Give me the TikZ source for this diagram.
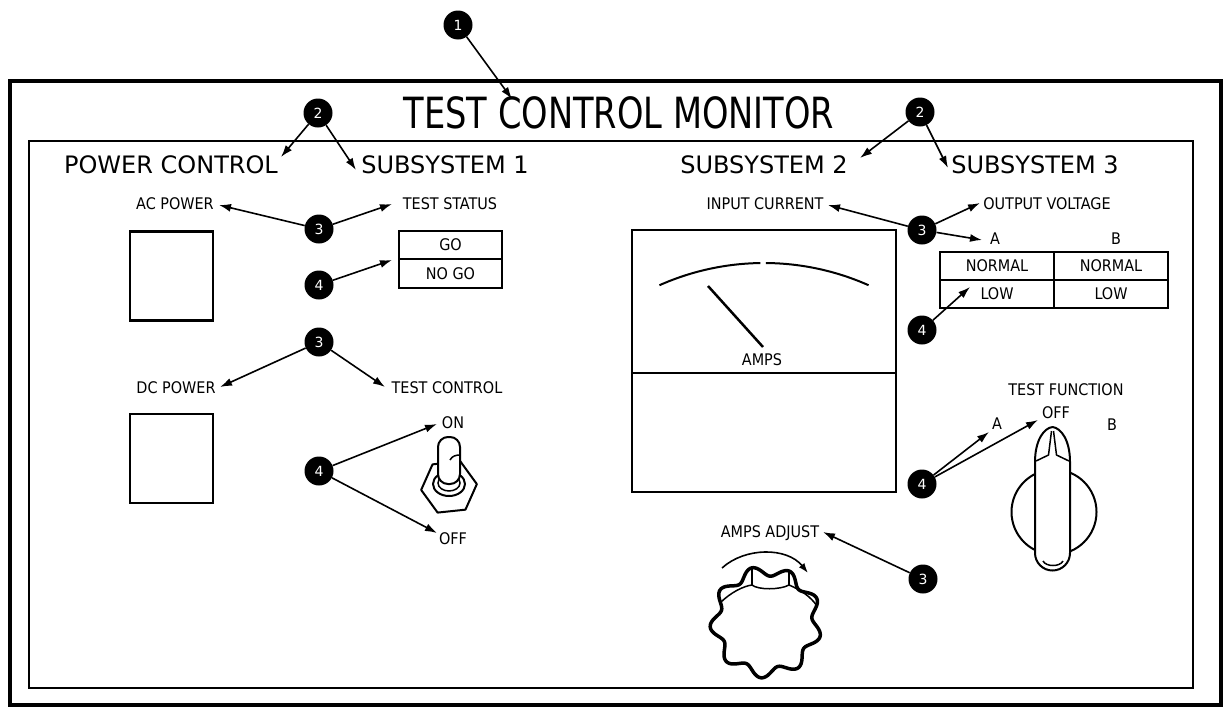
\documentclass[tikz,border=0pt]{standalone}
\usepackage{fontspec}
\usepackage{graphicx}
\setmainfont{DejaVu Sans}
\newfontfamily\condfont{DejaVu Sans Condensed}
\usetikzlibrary{arrows.meta}
\tikzset{
  lbl/.style={font=\condfont\fontsize{16}{18}\selectfont, inner sep=0pt, anchor=base},
  hdr/.style={font=\fontsize{24}{28}\selectfont, inner sep=0pt, anchor=base},
  callout/.style={circle, fill=black, text=white, minimum size=29pt, inner sep=0pt,
                  font=\fontsize{14}{14}\selectfont},
  ptr/.style={-{Latex[length=12pt,width=8pt]}, line width=1.6pt},
  cell/.style={draw, line width=2pt, inner sep=0pt, outer sep=0pt,
               font=\condfont\fontsize{16}{18}\selectfont},
  lamp/.style={draw, line width=2.2pt, minimum width=83pt, minimum height=89pt, inner sep=0pt},
  part/.style={draw, line width=2pt, fill=white, line join=round},
}
\begin{document}
\begin{tikzpicture}[x=1pt,y=-1pt]
\useasboundingbox (0,0) rectangle (1225,707);

% panel frames
\draw[line width=3.5pt] (10,81) rectangle (1221,705);
\draw[line width=2.5pt] (29,141) rectangle (1193,688);

% title and section headings
\node[font=\condfont\fontsize{43}{46}\selectfont, inner sep=0pt, anchor=base] (title) at (619,128)
  {\scalebox{0.87}[1]{TEST CONTROL MONITOR}};
\node[hdr] (hpow) at (171,173) {POWER CONTROL};
\node[hdr] (hsub1) at (445,173) {SUBSYSTEM 1};
\node[hdr] (hsub2) at (764,173) {SUBSYSTEM 2};
\node[hdr] (hsub3) at (1035,173) {SUBSYSTEM 3};

% power control
\node[lbl] (lac) at (175,209) {AC POWER};
\node[lamp] (acbox) at (171.5,276) {};
\node[lbl] (ldc) at (176,393) {DC POWER};
\node[lamp] (dcbox) at (171.5,458.5) {};

% subsystem 1
\node[lbl] (lstat) at (450,209) {TEST STATUS};
\node[cell, minimum width=103pt, minimum height=28pt] (go) at (450.5,245) {GO};
\node[cell, minimum width=103pt, minimum height=29pt] (nogo) at (450.5,273.5) {NO GO};
\node[lbl] (lctl) at (447,393) {TEST CONTROL};
\node[lbl] (lon) at (453,428) {ON};
\node[lbl] (loff) at (453,544) {OFF};

% toggle switch
\begin{scope}[shift={(449,487)}]
  \draw[part] (174:28) -- (234:28) -- (294:28) -- (354:28) -- (54:28) -- (114:28) -- cycle;
  \draw[part] (0,-3) ellipse [x radius=16, y radius=12];
  \draw[line width=1.5pt] (0,-4) ellipse [x radius=11, y radius=8];
  \draw[part, rounded corners=10pt] (-11,-50) rectangle (11,-3);
  \draw[line width=1.5pt] (1,-27) .. controls (3,-31) and (7,-32) .. (11,-32);
\end{scope}

% subsystem 2: meter
\node[draw, line width=2.5pt, minimum width=264pt, minimum height=262pt, inner sep=0pt] (meter) at (764,361) {};
\draw[line width=2.5pt] (632,373) -- (896,373);
\draw[line width=2pt] (764,520) ++(246:257) arc[start angle=246, end angle=269.2, radius=257];
\draw[line width=2pt] (764,520) ++(270.4:257) arc[start angle=270.4, end angle=294, radius=257];
\draw[line width=2.5pt] (708,286) -- (763,347);
\node[lbl] (lamps) at (762,365) {AMPS};
\node[lbl] (linp) at (765,209) {INPUT CURRENT};
\node[lbl] (ladj) at (770,537) {AMPS ADJUST};

% amps adjust knob: fluted rim with a raised top face
\draw[line width=1.6pt, -{Latex[length=10pt,width=7pt]}] (722,568) .. controls (745,547) and (787,547) .. (808,573);
\begin{scope}[shift={(766,622)}]
  \draw[line width=3.5pt, fill=white, line join=round]
    plot[domain=0:360, samples=217, smooth cycle, variable=\t] (\t:{51+5*cos(9*(\t+65))});
  \draw[line width=1.5pt] (-46,-19) .. controls (-35,-30) and (-22,-36) .. (-14,-37)
        .. controls (-8,-32) and (14,-32) .. (23,-37) .. controls (35,-32) and (45,-25) .. (51,-16);
  \draw[line width=1.5pt] (-14,-54) -- (-14,-37);
  \draw[line width=1.5pt] (23,-52) -- (23,-37);
\end{scope}

% subsystem 3
\node[lbl] (lout) at (1047,209) {OUTPUT VOLTAGE};
\node[lbl] (lca) at (995,244) {A};
\node[lbl] (lcb) at (1116,244) {B};
\node[cell, minimum width=114pt, minimum height=28pt] (norma) at (997,266) {NORMAL};
\node[cell, minimum width=114pt, minimum height=28pt] (normb) at (1111,266) {NORMAL};
\node[cell, minimum width=114pt, minimum height=28pt] (lowa) at (997,294) {LOW};
\node[cell, minimum width=114pt, minimum height=28pt] (lowb) at (1111,294) {LOW};
\node[lbl] (lfun) at (1066,395) {TEST FUNCTION};
\node[lbl] (lfa) at (997,429) {A};
\node[lbl] (lfoff) at (1056,418) {OFF};
\node[lbl] (lfb) at (1112,430) {B};

% test function selector
\draw[part] (1054,512) circle[radius=42.5];
\draw[part] (1035,462) -- (1035,553) arc[start angle=180, end angle=0, radius=17.5]
  -- (1070,462) .. controls (1070,440) and (1061,428) .. (1052.5,427)
  .. controls (1044,428) and (1035,440) .. (1035,462) -- cycle;
\draw[line width=1.5pt] (1051.5,431) -- (1048.5,455) -- (1036,461);
\draw[line width=1.5pt] (1053.5,431) -- (1056.5,455) -- (1069,461);
\draw[line width=1.5pt] (1043,561) .. controls (1046,567) and (1060,567) .. (1063,561);

% callouts
\node[callout] (n1) at (458,25) {1};
\node[callout] (n2a) at (318,113) {2};
\node[callout] (n2b) at (920,112) {2};
\node[callout] (n3a) at (319,229) {3};
\node[callout] (n4a) at (319,285) {4};
\node[callout] (n3b) at (319,342) {3};
\node[callout] (n4b) at (319,471) {4};
\node[callout] (n3c) at (922,230) {3};
\node[callout] (n4c) at (922,330) {4};
\node[callout] (n4d) at (922,484) {4};
\node[callout] (n3d) at (923,579) {3};

% pointer targets
\coordinate (t1) at (512,99);
\coordinate (t2a) at (281,157);
\coordinate (t2b) at (356,170);
\coordinate (t2c) at (860,158);
\coordinate (t2d) at (948,168);
\coordinate (t3a) at (219,205);
\coordinate (t3b) at (392,204);
\coordinate (t4a) at (392,260);
\coordinate (t3c) at (220,387);
\coordinate (t3d) at (385,387);
\coordinate (t4b) at (437,424);
\coordinate (t4c) at (437,533);
\coordinate (t3e) at (828,205);
\coordinate (t3f) at (980,203);
\coordinate (t3g) at (982,240);
\coordinate (t4d) at (970,287);
\coordinate (t4e) at (989,432);
\coordinate (t4f) at (1038,420);
\coordinate (t3h) at (823,532);

\draw[ptr] (n1) -- (t1);
\draw[ptr] (n2a) -- (t2a);
\draw[ptr] (n2a) -- (t2b);
\draw[ptr] (n2b) -- (t2c);
\draw[ptr] (n2b) -- (t2d);
\draw[ptr] (n3a) -- (t3a);
\draw[ptr] (n3a) -- (t3b);
\draw[ptr] (n4a) -- (t4a);
\draw[ptr] (n3b) -- (t3c);
\draw[ptr] (n3b) -- (t3d);
\draw[ptr] (n4b) -- (t4b);
\draw[ptr] (n4b) -- (t4c);
\draw[ptr] (n3c) -- (t3e);
\draw[ptr] (n3c) -- (t3f);
\draw[ptr] (n3c) -- (t3g);
\draw[ptr] (n4c) -- (t4d);
\draw[ptr] (n4d) -- (t4e);
\draw[ptr] (n4d) -- (t4f);
\draw[ptr] (n3d) -- (t3h);
\end{tikzpicture}
\end{document}
